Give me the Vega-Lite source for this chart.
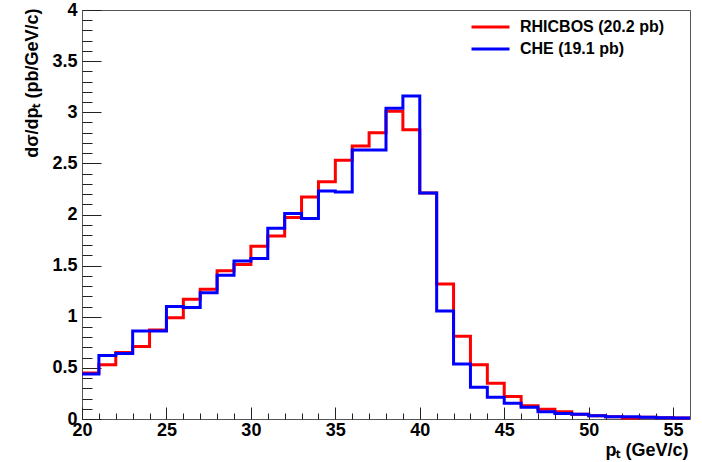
{
  "$schema": "https://vega.github.io/schema/vega-lite/v6.json",
  "width": 608,
  "height": 409,
  "autosize": {"type": "none"},
  "padding": {"left": 82, "top": 10, "right": 12, "bottom": 43},
  "background": "white",
  "config": {
    "view": {"stroke": "#555555", "strokeWidth": 1},
    "font": "Liberation Sans"
  },
  "data": {
    "values": [
      {"pt": 20, "series": "RHICBOS (20.2 pb)", "v": 0.45},
      {"pt": 21, "series": "RHICBOS (20.2 pb)", "v": 0.53},
      {"pt": 22, "series": "RHICBOS (20.2 pb)", "v": 0.65},
      {"pt": 23, "series": "RHICBOS (20.2 pb)", "v": 0.71},
      {"pt": 24, "series": "RHICBOS (20.2 pb)", "v": 0.87},
      {"pt": 25, "series": "RHICBOS (20.2 pb)", "v": 0.99},
      {"pt": 26, "series": "RHICBOS (20.2 pb)", "v": 1.17},
      {"pt": 27, "series": "RHICBOS (20.2 pb)", "v": 1.27},
      {"pt": 28, "series": "RHICBOS (20.2 pb)", "v": 1.45},
      {"pt": 29, "series": "RHICBOS (20.2 pb)", "v": 1.51},
      {"pt": 30, "series": "RHICBOS (20.2 pb)", "v": 1.69},
      {"pt": 31, "series": "RHICBOS (20.2 pb)", "v": 1.79},
      {"pt": 32, "series": "RHICBOS (20.2 pb)", "v": 1.97},
      {"pt": 33, "series": "RHICBOS (20.2 pb)", "v": 2.17},
      {"pt": 34, "series": "RHICBOS (20.2 pb)", "v": 2.32},
      {"pt": 35, "series": "RHICBOS (20.2 pb)", "v": 2.53},
      {"pt": 36, "series": "RHICBOS (20.2 pb)", "v": 2.67},
      {"pt": 37, "series": "RHICBOS (20.2 pb)", "v": 2.8},
      {"pt": 38, "series": "RHICBOS (20.2 pb)", "v": 3.01},
      {"pt": 39, "series": "RHICBOS (20.2 pb)", "v": 2.83},
      {"pt": 40, "series": "RHICBOS (20.2 pb)", "v": 2.21},
      {"pt": 41, "series": "RHICBOS (20.2 pb)", "v": 1.32},
      {"pt": 42, "series": "RHICBOS (20.2 pb)", "v": 0.81},
      {"pt": 43, "series": "RHICBOS (20.2 pb)", "v": 0.53},
      {"pt": 44, "series": "RHICBOS (20.2 pb)", "v": 0.35},
      {"pt": 45, "series": "RHICBOS (20.2 pb)", "v": 0.22},
      {"pt": 46, "series": "RHICBOS (20.2 pb)", "v": 0.13},
      {"pt": 47, "series": "RHICBOS (20.2 pb)", "v": 0.095},
      {"pt": 48, "series": "RHICBOS (20.2 pb)", "v": 0.072},
      {"pt": 49, "series": "RHICBOS (20.2 pb)", "v": 0.046},
      {"pt": 50, "series": "RHICBOS (20.2 pb)", "v": 0.033},
      {"pt": 51, "series": "RHICBOS (20.2 pb)", "v": 0.023},
      {"pt": 52, "series": "RHICBOS (20.2 pb)", "v": 0.01},
      {"pt": 53, "series": "RHICBOS (20.2 pb)", "v": 0.016},
      {"pt": 54, "series": "RHICBOS (20.2 pb)", "v": 0.013},
      {"pt": 55, "series": "RHICBOS (20.2 pb)", "v": 0.01},
      {"pt": 56, "series": "RHICBOS (20.2 pb)", "v": 0.01},
      {"pt": 20, "series": "CHE (19.1 pb)", "v": 0.44},
      {"pt": 21, "series": "CHE (19.1 pb)", "v": 0.62},
      {"pt": 22, "series": "CHE (19.1 pb)", "v": 0.64},
      {"pt": 23, "series": "CHE (19.1 pb)", "v": 0.86},
      {"pt": 24, "series": "CHE (19.1 pb)", "v": 0.86},
      {"pt": 25, "series": "CHE (19.1 pb)", "v": 1.1},
      {"pt": 26, "series": "CHE (19.1 pb)", "v": 1.09},
      {"pt": 27, "series": "CHE (19.1 pb)", "v": 1.235},
      {"pt": 28, "series": "CHE (19.1 pb)", "v": 1.405},
      {"pt": 29, "series": "CHE (19.1 pb)", "v": 1.545},
      {"pt": 30, "series": "CHE (19.1 pb)", "v": 1.57},
      {"pt": 31, "series": "CHE (19.1 pb)", "v": 1.865},
      {"pt": 32, "series": "CHE (19.1 pb)", "v": 2.01},
      {"pt": 33, "series": "CHE (19.1 pb)", "v": 1.96},
      {"pt": 34, "series": "CHE (19.1 pb)", "v": 2.23},
      {"pt": 35, "series": "CHE (19.1 pb)", "v": 2.22},
      {"pt": 36, "series": "CHE (19.1 pb)", "v": 2.63},
      {"pt": 37, "series": "CHE (19.1 pb)", "v": 2.63},
      {"pt": 38, "series": "CHE (19.1 pb)", "v": 3.04},
      {"pt": 39, "series": "CHE (19.1 pb)", "v": 3.16},
      {"pt": 40, "series": "CHE (19.1 pb)", "v": 2.21},
      {"pt": 41, "series": "CHE (19.1 pb)", "v": 1.056},
      {"pt": 42, "series": "CHE (19.1 pb)", "v": 0.538},
      {"pt": 43, "series": "CHE (19.1 pb)", "v": 0.31},
      {"pt": 44, "series": "CHE (19.1 pb)", "v": 0.212},
      {"pt": 45, "series": "CHE (19.1 pb)", "v": 0.153},
      {"pt": 46, "series": "CHE (19.1 pb)", "v": 0.114},
      {"pt": 47, "series": "CHE (19.1 pb)", "v": 0.072},
      {"pt": 48, "series": "CHE (19.1 pb)", "v": 0.055},
      {"pt": 49, "series": "CHE (19.1 pb)", "v": 0.046},
      {"pt": 50, "series": "CHE (19.1 pb)", "v": 0.033},
      {"pt": 51, "series": "CHE (19.1 pb)", "v": 0.023},
      {"pt": 52, "series": "CHE (19.1 pb)", "v": 0.023},
      {"pt": 53, "series": "CHE (19.1 pb)", "v": 0.016},
      {"pt": 54, "series": "CHE (19.1 pb)", "v": 0.013},
      {"pt": 55, "series": "CHE (19.1 pb)", "v": 0.01},
      {"pt": 56, "series": "CHE (19.1 pb)", "v": 0.01}
    ]
  },
  "encoding": {
    "x": {
      "field": "pt",
      "type": "quantitative",
      "scale": {"domain": [20, 56], "nice": false, "zero": false},
      "axis": {
        "values": [20, 21, 22, 23, 24, 25, 26, 27, 28, 29, 30, 31, 32, 33, 34, 35, 36, 37, 38, 39, 40, 41, 42, 43, 44, 45, 46, 47, 48, 49, 50, 51, 52, 53, 54, 55],
        "format": "d",
        "labelExpr": "datum.value % 5 === 0 ? datum.label : ''",
        "labelOverlap": false,
        "labelFlush": false,
        "labelBound": false,
        "labelFont": "Liberation Sans",
        "labelFontSize": 18,
        "labelFontWeight": "bold",
        "labelColor": "#000000",
        "labelPadding": 14,
        "tickSize": {"condition": {"test": "datum.value % 5 === 0", "value": -12}, "value": -6},
        "tickColor": "#222222",
        "tickWidth": 1,
        "domain": false,
        "grid": false,
        "title": "pₜ (GeV/c)",
        "titleFont": "Liberation Sans",
        "titleFontSize": 18,
        "titleFontWeight": "bold",
        "titleColor": "#000000",
        "titleAlign": "right",
        "titleBaseline": "alphabetic",
        "titleX": 606,
        "titleY": 36
      }
    },
    "y": {
      "field": "v",
      "type": "quantitative",
      "scale": {"domain": [0, 4], "nice": false},
      "axis": {
        "values": [0, 0.1, 0.2, 0.3, 0.4, 0.5, 0.6, 0.7, 0.8, 0.9, 1, 1.1, 1.2, 1.3, 1.4, 1.5, 1.6, 1.7, 1.8, 1.9, 2, 2.1, 2.2, 2.3, 2.4, 2.5, 2.6, 2.7, 2.8, 2.9, 3, 3.1, 3.2, 3.3, 3.4, 3.5, 3.6, 3.7, 3.8, 3.9, 4],
        "format": ".1~f",
        "labelExpr": "abs(datum.value * 2 - round(datum.value * 2)) < 0.001 ? datum.label : ''",
        "labelOverlap": false,
        "labelFlush": false,
        "labelBound": false,
        "labelFont": "Liberation Sans",
        "labelFontSize": 18,
        "labelFontWeight": "bold",
        "labelColor": "#000000",
        "labelPadding": 24,
        "tickSize": {"condition": {"test": "abs(datum.value * 2 - round(datum.value * 2)) < 0.001", "value": -19}, "value": -10},
        "tickColor": "#222222",
        "tickWidth": 1,
        "domain": false,
        "grid": false,
        "title": "dσ/dpₜ (pb/GeV/c)",
        "titleFont": "Liberation Sans",
        "titleFontSize": 18,
        "titleFontWeight": "bold",
        "titleColor": "#000000",
        "titleAngle": -90,
        "titleAlign": "right",
        "titleBaseline": "alphabetic",
        "titleX": -45,
        "titleY": -2
      }
    },
    "color": {
      "field": "series",
      "type": "nominal",
      "scale": {"domain": ["RHICBOS (20.2 pb)", "CHE (19.1 pb)"], "range": ["#ff0000", "#0000ff"]},
      "legend": {
        "title": null,
        "orient": "none",
        "legendX": 388,
        "legendY": 9,
        "padding": 0,
        "symbolType": "stroke",
        "symbolSize": 1444,
        "symbolStrokeWidth": 3,
        "clipHeight": 16,
        "labelFont": "Liberation Sans",
        "labelFontSize": 16,
        "labelFontWeight": "bold",
        "labelColor": "#000000",
        "labelOffset": 9,
        "labelLimit": 400,
        "rowPadding": 6
      }
    }
  },
  "layer": [
    {
      "transform": [{"filter": "datum.series === 'RHICBOS (20.2 pb)'"}],
      "mark": {"type": "line", "interpolate": "step-after", "strokeWidth": 3}
    },
    {
      "transform": [{"filter": "datum.series === 'CHE (19.1 pb)'"}],
      "mark": {"type": "line", "interpolate": "step-after", "strokeWidth": 3}
    }
  ]
}
